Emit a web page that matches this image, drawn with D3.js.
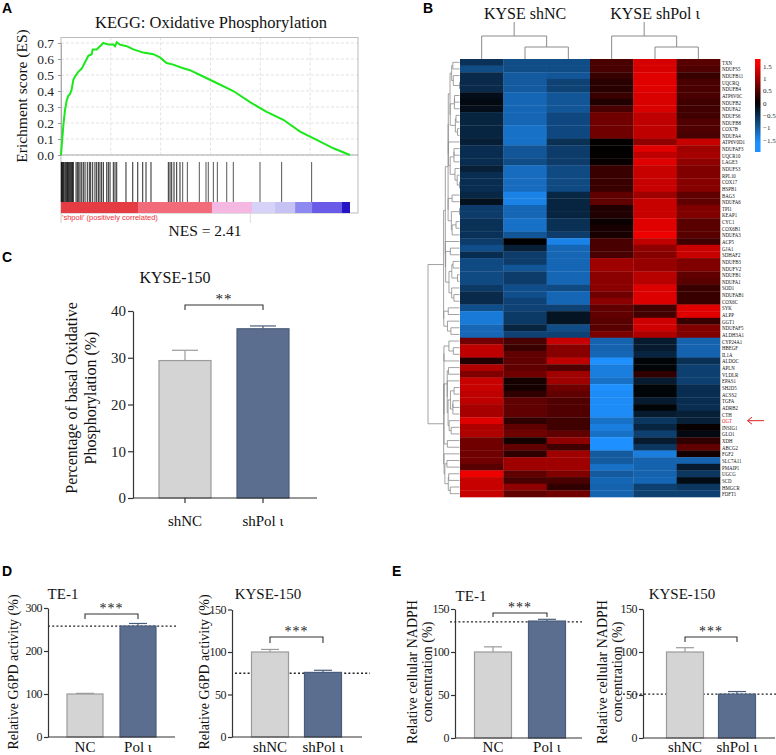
<!DOCTYPE html>
<html><head><meta charset="utf-8">
<script src="https://cdn.jsdelivr.net/npm/d3@7/dist/d3.min.js"></script>
<style>
body{margin:0;background:#fff}
svg{display:block}
</style>
</head><body>
<svg id="chart" width="776" height="755"></svg>
<script>
// ---------------- DATA ----------------
// Panel A: GSEA running enrichment score
const esRank  = [0,230,400,570,730,900,1070,1240,1410,1740,2080,2410,2740,3080,3180,3580,3910,4250,4750,5250,5420,5590,5920,6590,7260,8260,9270,9930,10600,11270,12110,12940,13950,15620,17290,18970,20640,22310,23990,25660,27330,29000];
const esValue = [0,0.18,0.28,0.34,0.37,0.38,0.41,0.47,0.49,0.52,0.54,0.58,0.62,0.63,0.66,0.66,0.68,0.70,0.69,0.69,0.68,0.705,0.69,0.68,0.66,0.64,0.63,0.61,0.575,0.565,0.545,0.53,0.50,0.45,0.40,0.33,0.27,0.22,0.146,0.094,0.042,0];
const hitRanks = [30,70,120,180,230,300,400,480,570,650,740,820,900,980,1070,1150,1240,1510,1640,1780,1910,2080,2240,2410,2640,2840,2980,3180,3410,3580,3750,3910,4080,4250,4590,4750,4920,5250,5420,5590,6520,7200,7700,8200,8530,9030,10770,10940,11110,11340,11610,11940,12210,12680,13880,14550,14780,15290,15690,16630,17290,19970,22140,25150];
const esTicks = [0,0.1,0.2,0.3,0.4,0.5,0.6,0.7];
const rankGrid = [5000,10000,15000,20000,25000];
const rankBarStops  = [0,7730,15150,19170,21480,23490,25190,28200,29000];
const rankBarColors = ["#e53b42","#f26b7a","#f5b8e3","#d7d3f8","#c6c2f4","#8d89f0","#6a5ae8","#2414c4"];

// Panel B: heatmap
const genes = ["TXN","NDUFS5","NDUFB11","UQCRQ","NDUFB4","ATP6V0C","NDUFB2","NDUFA2","NDUFS6","NDUFB8","COX7B","NDUFA4","ATP6V0D1","NDUFAF3","UQCR10","LAGE3","NDUFS3","RPL10","COX17","HSPB1","BAG3","NDUFA6","TPI1","KEAP1","CYC1","COX6B1","NDUFA3","ACP5","GJA1","SDHAF2","NDUFB3","NDUFV2","NDUFB1","NDUFA1","SOD1","NDUFAB1","COX6C","SYK","ALPP","GGT1","NDUFAF5","ALDH3A1","CYP24A1","HBEGF","IL1A","ALDOC","APLN","VLDLR","EPAS1","SH2D5","ACSS2","TGFA","ADRB2","CTH","OGT","INSIG1","GLO1","XDH","ABCG2","FGF2","SLC7A11","PMAIP1","UGCG","SCD","HMGCR","FDFT1"];
const highlightGene = "OGT";
const groupLabels = ["KYSE shNC","KYSE shPol ι"];
const shNC_1 = [-0.55,-0.84,-0.47,-0.47,-0.47,-0.16,-0.1,-0.16,-0.4,-0.4,-0.4,-0.4,-0.34,-0.5,-0.5,-0.5,-0.35,-0.5,-0.5,-0.5,-0.43,-0.18,-0.67,-0.67,-0.55,-0.55,-0.55,-0.67,-0.87,-0.5,-0.82,-0.82,-0.82,-0.82,-0.64,-0.47,-0.47,-0.87,-1.35,-1.35,-1.15,-1.15,0.72,1.2,1.2,0.2,1.1,0.8,1.25,1.25,1.2,1.2,1.05,1.05,1.4,1.1,1.1,0.7,0.7,0.7,0.7,0.56,1.5,1.25,1.25,1.25];
const shNC_2 = [-0.84,-0.84,-1.0,-1.0,-1.0,-1.13,-1.13,-1.13,-1.13,-1.13,-1.25,-1.25,-1.25,-0.95,-0.95,-0.84,-1.2,-1.2,-1.2,-1.2,-1.45,-1.45,-1.13,-1.13,-1.25,-1.25,-0.95,0,-0.34,-0.67,-0.67,-0.95,-0.67,-0.67,-0.87,-0.87,-0.73,-0.73,-0.64,-0.64,-0.4,-0.73,0.46,0.36,0.6,0.6,0.6,0.7,0.13,0.13,0.3,0.6,0.6,0.6,0.3,0.6,0.7,0.13,0.6,0.3,1.0,1.0,0.6,0.46,0.9,0.6];
const shNC_3 = [-0.84,-0.84,-0.95,-0.73,-0.73,-0.95,-0.95,-0.95,-0.8,-0.8,-0.8,-0.8,-0.53,-0.67,-0.67,-0.67,-0.82,-0.82,-0.82,-0.82,-0.43,-0.4,-0.4,-0.4,-0.53,-0.53,-0.67,-1.45,-1.13,-1.13,-1.13,-1.13,-1.13,-1.13,-0.82,-1.13,-1.13,-0.73,-0.22,-0.22,-0.84,-0.73,1.25,0.85,0.85,1.2,0.5,1.0,1.0,0.7,0.6,0.5,0.5,0.5,0.4,0.4,0.6,0.9,0.4,1.0,1.0,1.0,0.8,0.46,0.3,0.7];
const shPol_1 = [0.46,0.46,0.36,0.26,0.26,0.36,0.2,0.46,0.7,0.7,0.7,0.7,0.02,0.02,0.02,0.05,0.36,0.36,0.36,0.36,0.6,0.6,0.2,0.2,0.06,0.16,0.16,0.46,0.46,0.46,1.0,1.0,0.87,0.87,0.87,0.7,0.87,0.6,0.6,0.56,0.56,0.77,-1.1,-1.1,-1.13,-1.6,-1.4,-1.4,-1.25,-1.6,-1.55,-1.55,-1.55,-1.55,-1.25,-1.4,-1.25,-1.6,-1.6,-1.0,-1.0,-1.25,-1.0,-1.13,-1.1,-1.1];
const shPol_2 = [1.35,1.35,1.41,1.41,1.41,1.36,1.36,1.36,1.2,1.2,1.2,1.2,0.9,1.41,1.2,1.41,1.25,1.25,1.25,1.25,1.0,1.25,1.25,1.25,1.41,1.41,1.5,1.2,0.9,0.85,0.95,0.95,1.15,1.15,1.38,1.38,1.38,0.42,0.42,1.3,1.3,1.1,-0.3,-0.3,-0.4,-0.05,-0.05,0.3,-0.3,-0.05,-0.05,-0.3,-0.05,-0.3,-0.6,-0.4,-0.7,-0.3,-0.6,-1.4,-1.1,-1.1,-1.1,-1.13,-0.7,-0.7];
const shPol_3 = [0.56,0.5,0.36,0.46,0.46,0.46,0.4,0.4,0.4,0.5,0.5,0.46,1.25,1.0,1.05,0.9,0.8,0.8,0.85,0.85,0.6,0.6,0.8,0.8,0.56,0.56,0.56,0.4,1.25,1.25,0.8,0.8,0.6,0.56,0.36,0.36,0.36,1.41,1.41,0.36,0.8,0.8,-1.1,-1.1,-1.1,-0.53,-0.7,-0.7,-0.7,-0.5,-0.5,-0.5,-0.5,-0.35,-0.35,0.05,-0.1,0.3,0.6,0.13,-1.1,-0.3,-0.6,-0.13,-0.6,-0.7];
const colTree = [[0,[1,2]],[3,[4,5]]];
const legendTicks = [1.5,1,0.5,0,-0.5,-1,-1.5];

// Panel C
const cCats = ["shNC","shPol ι"];
const cMeans = [29.4,36.2];
const cErrs = [2.2,0.6];
const cTicks = [0,10,20,30,40];

// Panel D
const dTe1Cats = ["NC","Pol ι"];
const dTe1Means = [100,258];
const dTe1Errs = [1.5,6];
const dTe1Ref = 258;
const dKyseCats = ["shNC","shPol ι"];
const dKyseMeans = [100,76];
const dKyseErrs = [3,2.5];
const dKyseRef = 75;

// Panel E
const eTe1Cats = ["NC","Pol ι"];
const eTe1Means = [100,136];
const eTe1Errs = [6,2];
const eTe1Ref = 135;
const eKyseCats = ["shNC","shPol ι"];
const eKyseMeans = [100,51];
const eKyseErrs = [5,3];
const eKyseRef = 51;

// ---------------- DRAW ----------------
const SERIF = '"Liberation Serif","Times New Roman",serif';
const SANS = '"Liberation Sans",Arial,sans-serif';
const svg = d3.select("#chart");

function txt(g, x, y, s, size, opts={}) {
  const t = g.append("text").attr("x", x).attr("y", y).text(s)
    .attr("font-family", opts.family || SERIF).attr("font-size", size)
    .attr("fill", opts.fill || "#111").attr("text-anchor", opts.anchor || "middle");
  if (opts.weight) t.attr("font-weight", opts.weight);
  if (opts.rotate) t.attr("transform", `rotate(-90,${x},${y})`);
  if (opts.ls) t.attr("letter-spacing", opts.ls);
  return t;
}

// panel letters
[["A",2,13],["B",423,13],["C",2,262],["D",2,576],["E",392,576]].forEach(([l,x,y]) =>
  txt(svg, x, y, l, 14, {family: SANS, weight: "bold", anchor: "start", fill: "#000"}));

// ===== Panel A =====
(function(){
  const g = svg.append("g");
  const x = d3.scaleLinear().domain([0, 29000]).range([61, 350]);
  const y = d3.scaleLinear().domain([0, 0.7]).range([155, 43]);
  const boxR = 358, boxT = 37.5;
  txt(g, 211, 28, "KEGG: Oxidative Phosphorylation", 16.5);
  g.selectAll(".hg").data(esTicks).join("line")
    .attr("x1", 61).attr("x2", boxR).attr("y1", d => y(d)).attr("y2", d => y(d))
    .attr("stroke", "#e2e2e2").attr("stroke-dasharray", "3,2");
  g.selectAll(".vg").data(rankGrid).join("line")
    .attr("x1", d => x(d)).attr("x2", d => x(d)).attr("y1", boxT).attr("y2", 155)
    .attr("stroke", "#e2e2e2").attr("stroke-dasharray", "3,2");
  g.append("rect").attr("x", 61).attr("y", boxT).attr("width", boxR - 61).attr("height", 213 - boxT)
    .attr("fill", "none").attr("stroke", "#bbb");
  g.append("line").attr("x1", 61).attr("x2", boxR).attr("y1", 155).attr("y2", 155).attr("stroke", "#aaa");
  g.append("line").attr("x1", 61).attr("x2", 61).attr("y1", 213).attr("y2", 223).attr("stroke", "#ccc");
  g.append("line").attr("x1", x(19000)).attr("x2", x(19000)).attr("y1", 213).attr("y2", 223).attr("stroke", "#ddd");
  const ya = g.append("g").attr("transform", "translate(61,0)")
    .call(d3.axisLeft(y).tickValues(esTicks).tickFormat(d3.format(".1f")).tickSize(3));
  ya.select(".domain").attr("stroke", "#aaa");
  ya.selectAll(".tick line").attr("stroke", "#999");
  ya.selectAll(".tick text").attr("font-family", SERIF).attr("font-size", 13.5).attr("fill", "#222").attr("dx", "-1");
  txt(g, 27, 96, "Erichment score (ES)", 15.5, {rotate: true});
  g.append("path").datum(esRank.map((r, i) => [r, esValue[i]]))
    .attr("d", d3.line().x(d => x(d[0])).y(d => y(d[1])))
    .attr("fill", "none").attr("stroke", "#1be81b").attr("stroke-width", 2);
  g.selectAll(".hit").data(hitRanks).join("line")
    .attr("x1", d => x(d)).attr("x2", d => x(d)).attr("y1", 162).attr("y2", 202)
    .attr("stroke", d => d < 12000 ? "#111" : "#444").attr("stroke-width", 0.9);
  g.selectAll(".rb").data(rankBarColors).join("rect")
    .attr("x", (d, i) => x(rankBarStops[i])).attr("y", 202)
    .attr("width", (d, i) => x(rankBarStops[i + 1]) - x(rankBarStops[i])).attr("height", 11)
    .attr("fill", d => d);
  txt(g, 62, 220, "'shpoli' (positively correlated)", 7.5, {family: SANS, anchor: "start", fill: "#f0303c"});
  txt(g, 205, 236, "NES = 2.41", 15.5);
})();

// ===== Panel B =====
(function(){
  const g = svg.append("g");
  const samples = [shNC_1, shNC_2, shNC_3, shPol_1, shPol_2, shPol_3];
  const x = d3.scaleBand().domain(d3.range(6)).range([460, 720]);
  const y = d3.scaleBand().domain(d3.range(genes.length)).range([59, 497]);
  const color = d3.scaleLinear().domain([-1.6, 0, 1.6]).range(["#1e90ff", "#000000", "#ff0000"]).clamp(true);
  const cells = [];
  samples.forEach((arr, c) => arr.forEach((v, r) => cells.push({c, r, v})));
  g.selectAll(".cell").data(cells).join("rect")
    .attr("x", d => x(d.c)).attr("y", d => y(d.r))
    .attr("width", x.bandwidth() + 0.3).attr("height", y.bandwidth() + 0.3)
    .attr("fill", d => color(d.v));
  // gene labels (condensed serif, as in the figure)
  const sx = 0.64, sy = 0.86;
  const lab = g.append("g").attr("transform", `translate(722,0) scale(${sx},${sy})`);
  lab.selectAll(".gl").data(genes).join("text")
    .attr("x", 0).attr("y", (d, i) => (y(i) + y.bandwidth() / 2 + 2.5) / sy)
    .attr("font-family", SERIF).attr("font-size", 7.6)
    .attr("fill", d => d === highlightGene ? "#e02020" : "#111").text(d => d);
  const ai = genes.indexOf(highlightGene);
  const ay = y(ai) + y.bandwidth() / 2;
  g.append("line").attr("x1", 748).attr("x2", 764).attr("y1", ay).attr("y2", ay).attr("stroke", "#e02020").attr("stroke-width", 1);
  g.append("path").attr("d", `M752,${ay - 3.5} L747.5,${ay} L752,${ay + 3.5}`).attr("fill", "none").attr("stroke", "#e02020").attr("stroke-width", 1);
  txt(g, (x(0) + x(2) + x.bandwidth()) / 2, 19, groupLabels[0], 16);
  txt(g, (x(3) + x(5) + x.bandwidth()) / 2, 19, groupLabels[1], 16);
  // column dendrogram
  const cx = i => x(i) + x.bandwidth() / 2;
  const lev = [22, 36, 47, 59];
  const dg = g.append("g").attr("stroke", "#8a8a8a").attr("fill", "none").attr("stroke-width", 1);
  function drawCol(node, depth, topY) {
    if (typeof node === "number") {
      dg.append("line").attr("x1", cx(node)).attr("x2", cx(node)).attr("y1", topY).attr("y2", lev[3]);
      return cx(node);
    }
    const hy = lev[depth + 1];
    const xs = node.map(ch => drawCol(ch, depth + 1, hy));
    const mx = (xs[0] + xs[1]) / 2;
    dg.append("line").attr("x1", xs[0]).attr("x2", xs[1]).attr("y1", hy).attr("y2", hy);
    dg.append("line").attr("x1", mx).attr("x2", mx).attr("y1", topY).attr("y2", hy);
    return mx;
  }
  colTree.forEach(t => drawCol(t, 0, lev[0]));
  // row dendrogram (order-preserving average-linkage clustering of the rows)
  const rows = genes.map((_, r) => samples.map(s => s[r]));
  const dist = (a, b) => Math.sqrt(d3.sum(a.map((v, k) => (v - b[k]) ** 2)));
  let clusters = rows.map((v, i) => ({m: [i], h: 0, y: y(i) + y.bandwidth() / 2}));
  const cd = (a, b) => d3.mean(a.m.flatMap(i => b.m.map(j => dist(rows[i], rows[j]))));
  const nodes = [];
  while (clusters.length > 1) {
    let bi = 0, bd = Infinity;
    for (let i = 0; i < clusters.length - 1; i++) {
      const d = cd(clusters[i], clusters[i + 1]);
      if (d < bd) { bd = d; bi = i; }
    }
    const a = clusters[bi], b = clusters[bi + 1];
    const n = {m: a.m.concat(b.m), h: Math.max(bd, a.h, b.h), y: (a.y + b.y) / 2, kids: [a, b]};
    nodes.push(n);
    clusters.splice(bi, 2, n);
  }
  const root = clusters[0];
  const hx = d3.scalePow().exponent(0.6).domain([0, root.h]).range([459.5, 428]);
  const rg = g.append("g").attr("stroke", "#8a8a8a").attr("fill", "none").attr("stroke-width", 0.8);
  nodes.forEach(n => {
    const nx = hx(n.h);
    rg.append("line").attr("x1", nx).attr("x2", nx).attr("y1", n.kids[0].y).attr("y2", n.kids[1].y);
    n.kids.forEach(k => rg.append("line").attr("x1", nx).attr("x2", hx(k.h)).attr("y1", k.y).attr("y2", k.y));
  });
  // colour legend
  const ly = d3.scaleLinear().domain([0, 1.5]).range([103, 66]);
  const lg = svg.append("defs").append("linearGradient").attr("id", "lgrad")
    .attr("x1", 0).attr("x2", 0).attr("y1", 0).attr("y2", 1);
  const vTop = ly.invert(59), vBot = ly.invert(152);
  d3.range(0, 1.0001, 0.05).forEach(t => {
    lg.append("stop").attr("offset", t).attr("stop-color", color(vTop + (vBot - vTop) * t));
  });
  g.append("rect").attr("x", 755).attr("y", 59).attr("width", 5.5).attr("height", 93).attr("fill", "url(#lgrad)");
  g.selectAll(".lt").data(legendTicks).join("text")
    .attr("x", 763).attr("y", d => ly(d) + 2.6).attr("font-family", SERIF).attr("font-size", 7)
    .attr("fill", "#222").text(d => d3.format("")(d).replace("-", "\u2212"));
})();

// ===== Bar chart helper =====
function barChart(o) {
  const g = svg.append("g");
  const y = d3.scaleLinear().domain([0, o.yMax]).range([o.y0, o.yTop]);
  const x = d3.scalePoint().domain(o.cats).range(o.centers);
  if (o.ref != null) {
    g.append("line").attr("x1", o.refX[0]).attr("x2", o.refX[1]).attr("y1", y(o.ref)).attr("y2", y(o.ref))
      .attr("stroke", "#222").attr("stroke-width", 1.3).attr("stroke-dasharray", "2,2.2");
  }
  const fills = ["#d4d4d4", "#5b6e8f"], strokes = ["#9b9b9b", "#4a5c7b"];
  o.cats.forEach((c, i) => {
    const top = y(o.means[i] + o.errs[i]);
    g.append("line").attr("x1", x(c)).attr("x2", x(c)).attr("y1", y(o.means[i])).attr("y2", top).attr("stroke", strokes[i]).attr("stroke-width", 1.2);
    g.append("line").attr("x1", x(c) - o.capW).attr("x2", x(c) + o.capW).attr("y1", top).attr("y2", top).attr("stroke", strokes[i]).attr("stroke-width", 1.2);
  });
  g.selectAll(".bar").data(o.cats).join("rect")
    .attr("x", d => x(d) - o.barW / 2).attr("y", (d, i) => y(o.means[i]))
    .attr("width", o.barW).attr("height", (d, i) => o.y0 - y(o.means[i]))
    .attr("fill", (d, i) => fills[i]).attr("stroke", (d, i) => strokes[i]).attr("stroke-width", 1.2);
  const ya = g.append("g").attr("transform", `translate(${o.axisX},0)`)
    .call(d3.axisLeft(y).tickValues(o.ticks).tickSize(o.tickLen).tickSizeOuter(0));
  ya.select(".domain").attr("stroke", "#333").attr("stroke-width", 1.2);
  ya.selectAll(".tick line").attr("stroke", "#333").attr("stroke-width", 1.2);
  ya.selectAll(".tick text").attr("font-family", SERIF).attr("font-size", o.tickFont).attr("fill", "#222").attr("dx", "1").attr("letter-spacing", o.tickLs || 0);
  g.append("line").attr("x1", o.axisX).attr("x2", o.xEnd).attr("y1", o.y0).attr("y2", o.y0).attr("stroke", "#333").attr("stroke-width", 1.2);
  if (o.xTick) o.cats.forEach(c => g.append("line").attr("x1", x(c)).attr("x2", x(c)).attr("y1", o.y0).attr("y2", o.y0 + o.xTick).attr("stroke", "#333").attr("stroke-width", 1.2));
  o.cats.forEach(c => txt(g, x(c), o.labelY, c, o.labelFont));
  txt(g, o.titleX, o.titleY, o.title, o.titleFont);
  o.ylabel.forEach((l, i) => txt(g, o.ylabelX[i], o.ylabelY, l, o.ylabelFont, {rotate: true}));
  const [a, b] = o.cats.map(x);
  g.append("path").attr("d", `M${a},${o.sigY + o.sigTick} V${o.sigY} H${b} V${o.sigY + o.sigTick}`)
    .attr("fill", "none").attr("stroke", "#333").attr("stroke-width", 1.1);
  txt(g, (a + b) / 2, o.sigY - 1, o.sig, o.sigFont, {ls: 1, fill: "#222"});
}

// ===== Panel C =====
barChart({cats: cCats, means: cMeans, errs: cErrs, ticks: cTicks, yMax: 40, y0: 498, yTop: 311,
  centers: [185, 263], barW: 52, capW: 13, axisX: 133, xEnd: 317, tickLen: 5, tickFont: 15, xTick: 5,
  labelY: 526, labelFont: 15, title: "KYSE-150", titleX: 175, titleY: 283, titleFont: 16,
  ylabel: ["Percentage of basal Oxidative", "Phosphorylation (%)"], ylabelX: [77, 96], ylabelY: 398, ylabelFont: 16,
  sig: "**", sigY: 305, sigTick: 5, sigFont: 15});

// ===== Panel D =====
barChart({cats: dTe1Cats, means: dTe1Means, errs: dTe1Errs, ticks: [0,100,200,300], yMax: 300, y0: 737, yTop: 608,
  centers: [85, 138], barW: 36, capW: 9, axisX: 48, xEnd: 175, tickLen: 4, tickFont: 12, tickLs: -0.5, xTick: 0,
  ref: dTe1Ref, refX: [48, 176],
  labelY: 752, labelFont: 15, title: "TE-1", titleX: 63, titleY: 599, titleFont: 15,
  ylabel: ["Relative G6PD activity (%)"], ylabelX: [18], ylabelY: 672, ylabelFont: 14,
  sig: "***", sigY: 614, sigTick: 5, sigFont: 14});
barChart({cats: dKyseCats, means: dKyseMeans, errs: dKyseErrs, ticks: [0,50,100,150], yMax: 150, y0: 737, yTop: 609.5,
  centers: [270, 323], barW: 37, capW: 9, axisX: 232, xEnd: 362, tickLen: 4, tickFont: 12, tickLs: -0.5, xTick: 0,
  ref: dKyseRef, refX: [235, 370],
  labelY: 752, labelFont: 15, title: "KYSE-150", titleX: 268, titleY: 599, titleFont: 15,
  ylabel: ["Relative G6PD activity (%)"], ylabelX: [209], ylabelY: 672, ylabelFont: 14,
  sig: "***", sigY: 637, sigTick: 6, sigFont: 14});

// ===== Panel E =====
barChart({cats: eTe1Cats, means: eTe1Means, errs: eTe1Errs, ticks: [0,50,100,150], yMax: 150, y0: 738, yTop: 609,
  centers: [493, 547], barW: 37, capW: 9, axisX: 455, xEnd: 582, tickLen: 4, tickFont: 12, tickLs: -0.5, xTick: 0,
  ref: eTe1Ref, refX: [450, 582],
  labelY: 752, labelFont: 15, title: "TE-1", titleX: 471, titleY: 601, titleFont: 15,
  ylabel: ["Relative cellular NADPH", "concentration (%)"], ylabelX: [417, 432], ylabelY: 672, ylabelFont: 14,
  sig: "***", sigY: 613, sigTick: 4, sigFont: 14});
barChart({cats: eKyseCats, means: eKyseMeans, errs: eKyseErrs, ticks: [0,50,100,150], yMax: 150, y0: 738, yTop: 609,
  centers: [685, 737], barW: 37, capW: 9, axisX: 643, xEnd: 775, tickLen: 4, tickFont: 12, tickLs: -0.5, xTick: 0,
  ref: eKyseRef, refX: [623, 776],
  labelY: 752, labelFont: 15, title: "KYSE-150", titleX: 682, titleY: 599, titleFont: 15,
  ylabel: ["Relative cellular NADPH", "concentration (%)"], ylabelX: [607, 622], ylabelY: 672, ylabelFont: 14,
  sig: "***", sigY: 637, sigTick: 5, sigFont: 14});
</script>
</body></html>
